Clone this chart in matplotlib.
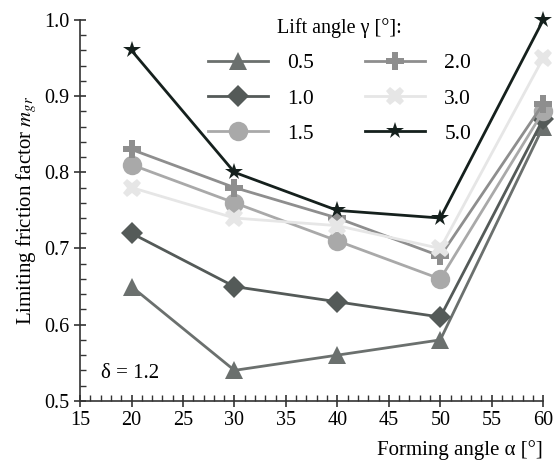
import matplotlib.pyplot as plt
from matplotlib.ticker import MultipleLocator

plt.rcParams['font.family'] = ['Liberation Serif', 'DejaVu Serif']
plt.rcParams['mathtext.fontset'] = 'stix'

alpha = [20, 30, 40, 50, 60]
labels = ['0.5', '1.0', '1.5', '2.0', '3.0', '5.0']
m05 = [0.65, 0.54, 0.56, 0.58, 0.86]
m10 = [0.72, 0.65, 0.63, 0.61, 0.87]
m15 = [0.81, 0.76, 0.71, 0.66, 0.88]
m20 = [0.83, 0.78, 0.74, 0.69, 0.89]
m30 = [0.78, 0.74, 0.73, 0.70, 0.95]
m50 = [0.96, 0.80, 0.75, 0.74, 1.00]
series = [m05, m10, m15, m20, m30, m50]

colors = ['#6b706e', '#545a58', '#a9a9a9', '#8e8e8e', '#e6e6e6', '#15201d']
markers = ['^', 'D', 'o', 'P', 'X', '*']
msizes = [13, 11, 14, 13, 13, 13]

fig = plt.figure(figsize=(5.56, 4.65), dpi=100)
ax = fig.add_axes([0.144, 0.138, 0.833, 0.819])

for vals, lab, c, mk, ms in zip(series, labels, colors, markers, msizes):
    ax.plot(alpha, vals, color=c, marker=mk, markersize=ms, lw=2,
            markeredgewidth=0, label=lab, clip_on=False, zorder=3)

ax.set_xlim(15, 60)
ax.set_ylim(0.5, 1.0)
ax.xaxis.set_major_locator(MultipleLocator(5))
ax.xaxis.set_minor_locator(MultipleLocator(1))
ax.yaxis.set_major_locator(MultipleLocator(0.1))
ax.yaxis.set_minor_locator(MultipleLocator(0.02))
ax.yaxis.set_major_formatter(plt.FuncFormatter(lambda v, p: f'{v:.1f}'))
ax.tick_params(which='major', direction='inout', length=8, width=1.2, labelsize=14.5, color='#333333')
ax.tick_params(which='minor', direction='in', length=4, width=1, color='#333333')
for s in ['top', 'right']:
    ax.spines[s].set_visible(False)
for s in ['left', 'bottom']:
    ax.spines[s].set_linewidth(1.2)
    ax.spines[s].set_color('#333333')

ax.set_xlabel('Forming angle α [°]', fontsize=15, loc='right', labelpad=7)
ax.set_ylabel('Limiting friction factor $m_{gr}$', fontsize=15)
ax.text(17, 0.53, 'δ = 1.2', fontsize=15)

leg = ax.legend(ncol=2, title='Lift angle γ [°]:', frameon=False, fontsize=15.5,
                title_fontsize=14.5, loc='upper center', bbox_to_anchor=(0.56, 1.055),
                handlelength=2.8, columnspacing=2.35, labelspacing=0.7, handletextpad=0.9)

fig.savefig('out.png', dpi=100)
